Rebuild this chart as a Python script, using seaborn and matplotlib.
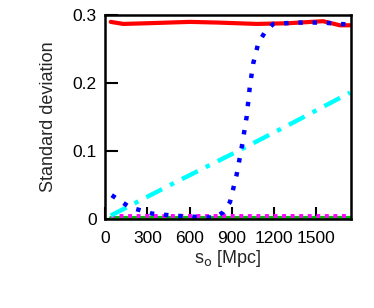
import numpy as np
import pandas as pd
import seaborn as sns
import matplotlib.pyplot as plt

# values
red_s = [40, 130, 300, 603, 800, 1076, 1300, 1548, 1667, 1740]
red_v = [0.290, 0.287, 0.288, 0.290, 0.289, 0.287, 0.288, 0.291, 0.285, 0.285]

blue_s = [47, 177, 248, 331, 482, 695, 780, 839, 887, 934, 969, 1005, 1028,
          1052, 1087, 1135, 1194, 1359, 1548, 1667, 1740]
blue_v = [0.035, 0.017, 0.013, 0.008, 0.005, 0.0025, 0.002, 0.010, 0.025,
          0.065, 0.104, 0.150, 0.195, 0.229, 0.258, 0.275, 0.287, 0.289,
          0.289, 0.287, 0.286]

cyan_s = [40, 500, 934, 1300, 1740]
cyan_v = [0.005, 0.054, 0.099, 0.138, 0.186]

green_s = [40, 1740]
green_v = [0.0015, 0.0015]

magenta_s = [40, 1740]
magenta_v = [0.005, 0.005]

xticks = [0, 300, 600, 900, 1200, 1500]
yticks = [0, 0.1, 0.2, 0.3]

sns.set_style("white")
plt.rcParams["font.family"] = ["Liberation Sans", "DejaVu Sans"]

fig = plt.figure(figsize=(3.74, 3.08), dpi=100)
ax = fig.add_axes([0.281, 0.289, 0.657, 0.662])

sns.lineplot(x=green_s, y=green_v, ax=ax, color="#00c000", lw=3)
sns.lineplot(x=magenta_s, y=magenta_v, ax=ax, color="#ff00ff", lw=2.8,
             linestyle=(0, (1, 1.2)))
sns.lineplot(x=cyan_s, y=cyan_v, ax=ax, color="#00ffff", lw=3.2,
             linestyle=(0, (4, 2, 1, 2)))
sns.lineplot(x=red_s, y=red_v, ax=ax, color="#ff0000", lw=3)
sns.lineplot(x=blue_s, y=blue_v, ax=ax, color="#0000ff", lw=3.2,
             linestyle=(0, (1, 2.2)))

ax.set_xlim(0, 1745)
ax.set_ylim(0, 0.3)
ax.set_xticks(xticks)
ax.set_xticklabels([str(t) for t in xticks])
ax.set_yticks(yticks)
ax.set_yticklabels(["0", "0.1", "0.2", "0.3"])
ax.tick_params(direction="in", length=9, width=1.5, labelsize=12.5,
               bottom=True, left=True, top=False, right=False,
               colors="black")
ax.tick_params(axis="x", pad=9)
ax.tick_params(axis="y", pad=6)
for sp in ax.spines.values():
    sp.set_linewidth(1.8)
    sp.set_color("black")
ax.set_xlabel("s$_{\\rm o}$ [Mpc]", fontsize=13, labelpad=1)
ax.set_ylabel("Standard deviation", fontsize=13, labelpad=11)

plt.savefig("out.png", dpi=100)
